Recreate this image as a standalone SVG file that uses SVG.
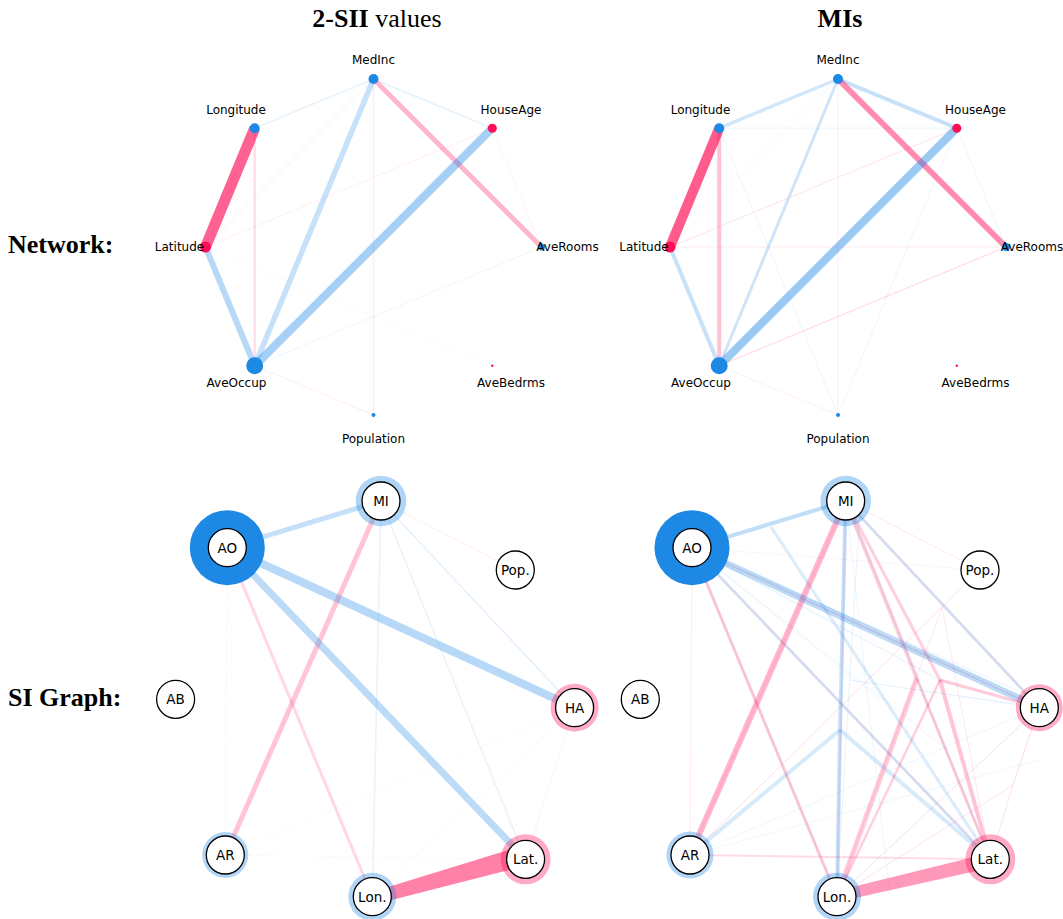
<svg xmlns="http://www.w3.org/2000/svg" width="1063" height="919" viewBox="0 0 1063 919">
<style>
.b{stroke:#1E88E5;fill:none}
.r{stroke:#FF0D57;fill:none}
.rp{fill:#FF0D57;stroke:none}
.lbl{font-family:"DejaVu Sans",sans-serif;font-size:12px;text-anchor:middle;fill:#000}
.sl{font-family:"DejaVu Sans",sans-serif;font-size:13.5px;text-anchor:middle;fill:#000}
.nd{fill:#fff;stroke:#000;stroke-width:1.3}
.ttl{font-family:"Liberation Serif",serif;font-size:26px;fill:#000}
.bf{fill:#1E88E5}
.rf{fill:#FF0D57}
.ringb{fill:#1E88E5;fill-opacity:0.35}
.ringr{fill:#FF0D57;fill-opacity:0.35}
</style>
<rect width="1063" height="919" fill="#fff"/>
<g id="titles">
<text class="ttl" x="377" y="27" text-anchor="middle"><tspan font-weight="bold">2-SII</tspan> values</text>
<text class="ttl" x="840" y="27" text-anchor="middle" font-weight="bold">MIs</text>
<text class="ttl" x="8" y="253" font-weight="bold">Network:</text>
<text class="ttl" x="8" y="706" font-weight="bold">SI Graph:</text>
</g>

<!-- ============ TOP LEFT NETWORK ============ -->
<g id="connectors-network-sii">
<line class="r" x1="373.5" y1="79" x2="373.5" y2="415" stroke-width="1.5" stroke-opacity="0.08"/>
<line class="b" x1="373.5" y1="79" x2="254.7" y2="128.2" stroke-width="1.5" stroke-opacity="0.1"/>
<line class="b" x1="373.5" y1="79" x2="492.3" y2="128.2" stroke-width="1.5" stroke-opacity="0.12"/>
<line class="b" x1="373.5" y1="79" x2="205.5" y2="247" stroke-width="1" stroke-opacity="0.08"/>
<line class="r" x1="205.5" y1="247" x2="492.3" y2="128.2" stroke-width="1" stroke-opacity="0.07"/>
<line class="r" x1="492.3" y1="128.2" x2="541.5" y2="247" stroke-width="1" stroke-opacity="0.05"/>
<line class="b" x1="254.7" y1="365.8" x2="541.5" y2="247" stroke-width="1" stroke-opacity="0.08"/>
<line class="r" x1="254.7" y1="365.8" x2="373.5" y2="415" stroke-width="1" stroke-opacity="0.08"/>
<line class="b" x1="205.5" y1="247" x2="492.3" y2="365.8" stroke-width="1" stroke-opacity="0.03"/>
<line class="b" x1="254.7" y1="128.2" x2="492.3" y2="365.8" stroke-width="1" stroke-opacity="0.03"/>
<line class="b" x1="254.7" y1="128.2" x2="205.5" y2="247" stroke-width="1" stroke-opacity="0.05"/>
<line class="r" x1="254.7" y1="128.2" x2="254.7" y2="365.8" stroke-width="2.2" stroke-opacity="0.15"/>
<line class="b" x1="205.5" y1="247" x2="254.7" y2="365.8" stroke-width="6" stroke-opacity="0.32"/>
<line class="b" x1="373.5" y1="79" x2="254.7" y2="365.8" stroke-width="5.5" stroke-opacity="0.25"/>
<line class="r" x1="373.5" y1="79" x2="541.5" y2="247" stroke-width="5" stroke-opacity="0.3"/>
<line class="b" x1="492.3" y1="128.2" x2="254.7" y2="365.8" stroke-width="8" stroke-opacity="0.4"/>
<line class="r" x1="254.7" y1="128.2" x2="205.5" y2="247" stroke-width="11" stroke-opacity="0.65"/>
</g>
<g id="n-tl-medinc"><circle class="bf" cx="373.5" cy="79" r="5"/><text class="lbl" x="373.5" y="64.4">MedInc</text></g>
<g id="n-tl-longitude"><circle class="bf" cx="254.7" cy="128.2" r="5"/><text class="lbl" x="236" y="114.4">Longitude</text></g>
<g id="n-tl-houseage"><circle class="rf" cx="492.3" cy="128.2" r="4.5"/><text class="lbl" x="511" y="114.4">HouseAge</text></g>
<g id="n-tl-latitude"><circle class="rf" cx="205.5" cy="247" r="5.5"/><text class="lbl" x="179.5" y="250.6">Latitude</text></g>
<g id="n-tl-averooms"><circle class="bf" cx="541.5" cy="247" r="3.5"/><text class="lbl" x="567.5" y="250.6">AveRooms</text></g>
<g id="n-tl-aveoccup"><circle class="bf" cx="254.7" cy="365.8" r="8.5"/><text class="lbl" x="236.5" y="386.7">AveOccup</text></g>
<g id="n-tl-avebedrms"><circle class="rf" cx="492.3" cy="365.8" r="1.2"/><text class="lbl" x="511" y="386.7">AveBedrms</text></g>
<g id="n-tl-population"><circle class="bf" cx="373.5" cy="415" r="2"/><text class="lbl" x="373.5" y="443.3">Population</text></g>

<!-- ============ TOP RIGHT NETWORK ============ -->
<g id="connectors-network-mi">
<line class="b" x1="719.2" y1="128.2" x2="956.8" y2="128.2" stroke-width="1" stroke-opacity="0.08"/>
<line class="r" x1="670" y1="247" x2="956.8" y2="128.2" stroke-width="1" stroke-opacity="0.12"/>
<line class="r" x1="670" y1="247" x2="1006" y2="247" stroke-width="1" stroke-opacity="0.08"/>
<line class="r" x1="719.2" y1="365.8" x2="1006" y2="247" stroke-width="1.2" stroke-opacity="0.15"/>
<line class="r" x1="719.2" y1="365.8" x2="838" y2="415" stroke-width="1" stroke-opacity="0.07"/>
<line class="b" x1="719.2" y1="128.2" x2="838" y2="415" stroke-width="1" stroke-opacity="0.08"/>
<line class="b" x1="956.8" y1="128.2" x2="838" y2="415" stroke-width="1" stroke-opacity="0.08"/>
<line class="r" x1="838" y1="79" x2="838" y2="415" stroke-width="1" stroke-opacity="0.07"/>
<line class="b" x1="956.8" y1="128.2" x2="1006" y2="247" stroke-width="1" stroke-opacity="0.08"/>
<line class="b" x1="838" y1="79" x2="670" y2="247" stroke-width="1" stroke-opacity="0.08"/>
<line class="b" x1="838" y1="79" x2="719.2" y2="128.2" stroke-width="3.5" stroke-opacity="0.2"/>
<line class="b" x1="838" y1="79" x2="956.8" y2="128.2" stroke-width="4" stroke-opacity="0.25"/>
<line class="b" x1="838" y1="79" x2="719.2" y2="365.8" stroke-width="3" stroke-opacity="0.22"/>
<line class="b" x1="670" y1="247" x2="719.2" y2="365.8" stroke-width="4" stroke-opacity="0.25"/>
<line class="r" x1="719.2" y1="128.2" x2="719.2" y2="365.8" stroke-width="4" stroke-opacity="0.25"/>
<line class="r" x1="838" y1="79" x2="1006" y2="247" stroke-width="6" stroke-opacity="0.48"/>
<line class="b" x1="956.8" y1="128.2" x2="719.2" y2="365.8" stroke-width="8" stroke-opacity="0.45"/>
<line class="r" x1="719.2" y1="128.2" x2="670" y2="247" stroke-width="10" stroke-opacity="0.68"/>
</g>
<g id="n-tr-medinc"><circle class="bf" cx="838" cy="79" r="5"/><text class="lbl" x="838" y="64.4">MedInc</text></g>
<g id="n-tr-longitude"><circle class="bf" cx="719.2" cy="128.2" r="5"/><text class="lbl" x="700.5" y="114.4">Longitude</text></g>
<g id="n-tr-houseage"><circle class="rf" cx="956.8" cy="128.2" r="4.5"/><text class="lbl" x="975.5" y="114.4">HouseAge</text></g>
<g id="n-tr-latitude"><circle class="rf" cx="670" cy="247" r="5.5"/><text class="lbl" x="644" y="250.6">Latitude</text></g>
<g id="n-tr-averooms"><circle class="bf" cx="1006" cy="247" r="4"/><text class="lbl" x="1032" y="250.6">AveRooms</text></g>
<g id="n-tr-aveoccup"><circle class="bf" cx="719.2" cy="365.8" r="8.5"/><text class="lbl" x="701" y="386.7">AveOccup</text></g>
<g id="n-tr-avebedrms"><circle class="rf" cx="956.8" cy="365.8" r="1.2"/><text class="lbl" x="975.5" y="386.7">AveBedrms</text></g>
<g id="n-tr-population"><circle class="bf" cx="838" cy="415" r="2"/><text class="lbl" x="838" y="443.3">Population</text></g>

<!-- ============ BOTTOM LEFT SI GRAPH ============ -->
<g id="connectors-si-sii">
<line class="b" x1="227.3" y1="547.7" x2="225.3" y2="855" stroke-width="1" stroke-opacity="0.04"/>
<line class="b" x1="225.3" y1="855" x2="525.6" y2="859.3" stroke-width="1" stroke-opacity="0.03"/>
<line class="b" x1="225.3" y1="855" x2="574.6" y2="707.7" stroke-width="1" stroke-opacity="0.03"/>
<line class="r" x1="381" y1="501" x2="515.3" y2="570" stroke-width="1" stroke-opacity="0.08"/>
<line class="r" x1="574.6" y1="707.7" x2="525.6" y2="859.3" stroke-width="1" stroke-opacity="0.06"/>
<line class="b" x1="372.3" y1="896.7" x2="574.6" y2="707.7" stroke-width="1" stroke-opacity="0.04"/>
<line class="b" x1="381" y1="501" x2="372.3" y2="896.7" stroke-width="1.5" stroke-opacity="0.1"/>
<line class="b" x1="381" y1="501" x2="525.6" y2="859.3" stroke-width="1.5" stroke-opacity="0.1"/>
<line class="b" x1="381" y1="501" x2="574.6" y2="707.7" stroke-width="1.5" stroke-opacity="0.13"/>
<line class="r" x1="227.3" y1="547.7" x2="372.3" y2="896.7" stroke-width="3" stroke-opacity="0.16"/>
<line class="r" x1="381" y1="501" x2="225.3" y2="855" stroke-width="5" stroke-opacity="0.24"/>
<line class="b" x1="227.3" y1="547.7" x2="381" y2="501" stroke-width="5" stroke-opacity="0.26"/>
<line class="b" x1="227.3" y1="547.7" x2="525.6" y2="859.3" stroke-width="7" stroke-opacity="0.3"/>
<line class="b" x1="227.3" y1="547.7" x2="574.6" y2="707.7" stroke-width="8" stroke-opacity="0.32"/>
<polygon class="rp" points="372,892 525,845 525,866 372,905" fill-opacity="0.52"/>
</g>
<g id="n-bl-ao"><circle class="bf" cx="227.3" cy="547.7" r="37.5"/><circle class="nd" cx="227.3" cy="547.7" r="19"/><text class="sl" x="227.3" y="552.5">AO</text></g>
<g id="n-bl-mi"><circle class="ringb" cx="381" cy="501" r="25.3"/><circle class="nd" cx="381" cy="501" r="19"/><text class="sl" x="381" y="505.8">MI</text></g>
<g id="n-bl-pop"><circle class="nd" cx="515.3" cy="570" r="19"/><text class="sl" x="515.3" y="574.8">Pop.</text></g>
<g id="n-bl-ab"><circle class="nd" cx="175.6" cy="699.3" r="19"/><text class="sl" x="175.6" y="704.1">AB</text></g>
<g id="n-bl-ha"><circle class="ringr" cx="574.6" cy="707.7" r="24" fill-opacity="0.25"/><circle class="nd" cx="574.6" cy="707.7" r="19"/><text class="sl" x="574.6" y="712.5">HA</text></g>
<g id="n-bl-ar"><circle class="ringb" cx="225.3" cy="855" r="23" fill-opacity="0.28"/><circle class="nd" cx="225.3" cy="855" r="19"/><text class="sl" x="225.3" y="859.8">AR</text></g>
<g id="n-bl-lon"><circle class="ringb" cx="372.3" cy="896.7" r="24" fill-opacity="0.3"/><circle class="nd" cx="372.3" cy="896.7" r="19"/><text class="sl" x="372.3" y="901.5">Lon.</text></g>
<g id="n-bl-lat"><circle class="ringr" cx="525.6" cy="859.3" r="25" fill-opacity="0.4"/><circle class="nd" cx="525.6" cy="859.3" r="19"/><text class="sl" x="525.6" y="864.1">Lat.</text></g>

<!-- ============ BOTTOM RIGHT SI GRAPH ============ -->
<g id="connectors-si-mi">
<line class="r" x1="692" y1="547.7" x2="690" y2="855" stroke-width="1" stroke-opacity="0.08"/>
<line class="r" x1="845.7" y1="501" x2="980" y2="570" stroke-width="1" stroke-opacity="0.1"/>
<line class="r" x1="692" y1="547.7" x2="980" y2="570" stroke-width="1" stroke-opacity="0.05"/>
<line class="b" x1="690" y1="855" x2="1039.3" y2="707.7" stroke-width="1" stroke-opacity="0.08"/>
<line class="b" x1="837" y1="896.7" x2="1039.3" y2="707.7" stroke-width="1" stroke-opacity="0.08"/>
<line class="b" x1="692" y1="547.7" x2="837" y2="896.7" stroke-width="1.5" stroke-opacity="0.08"/>
<line class="b" x1="692" y1="547.7" x2="940" y2="680" stroke-width="1.2" stroke-opacity="0.1"/>
<line class="b" x1="692" y1="547.7" x2="1039.3" y2="700" stroke-width="1" stroke-opacity="0.1"/>
<line class="b" x1="692" y1="547.7" x2="960" y2="760" stroke-width="1" stroke-opacity="0.08"/>
<line class="b" x1="692" y1="547.7" x2="880" y2="700" stroke-width="1" stroke-opacity="0.08"/>
<line class="b" x1="845.7" y1="501" x2="990.3" y2="859.3" stroke-width="1.5" stroke-opacity="0.12"/>
<line class="b" x1="845.7" y1="501" x2="890" y2="896" stroke-width="1" stroke-opacity="0.08"/>
<line class="b" x1="860" y1="505" x2="837" y2="896.7" stroke-width="1" stroke-opacity="0.1"/>
<line class="b" x1="690" y1="855" x2="1039.3" y2="760" stroke-width="1" stroke-opacity="0.07"/>
<line class="b" x1="850" y1="680" x2="1039.3" y2="707.7" stroke-width="1.2" stroke-opacity="0.12"/>
<line class="r" x1="845.7" y1="501" x2="837" y2="896.7" stroke-width="1.5" stroke-opacity="0.12"/>
<line class="r" x1="845.7" y1="501" x2="690" y2="855" stroke-width="1.2" stroke-opacity="0.1"/>
<line class="r" x1="1039.3" y1="707.7" x2="1013" y2="785" stroke-width="1" stroke-opacity="0.15"/>
<line class="r" x1="1013" y1="785" x2="990.3" y2="859.3" stroke-width="1" stroke-opacity="0.12"/>
<line class="r" x1="1013" y1="785" x2="837" y2="896.7" stroke-width="1" stroke-opacity="0.12"/>
<line class="r" x1="942" y1="607" x2="690" y2="855" stroke-width="1" stroke-opacity="0.14"/>
<line class="r" x1="942" y1="607" x2="980" y2="570" stroke-width="1" stroke-opacity="0.1"/>
<line class="r" x1="942" y1="607" x2="990.3" y2="859.3" stroke-width="1" stroke-opacity="0.1"/>
<line class="r" x1="942" y1="607" x2="837" y2="896.7" stroke-width="1" stroke-opacity="0.1"/>
<line class="r" x1="692" y1="547.7" x2="1039.3" y2="707.7" stroke-width="1.5" stroke-opacity="0.16"/>
<line class="r" x1="690" y1="855" x2="990.3" y2="859.3" stroke-width="2" stroke-opacity="0.15"/>
<line class="r" x1="837" y1="896.7" x2="1039.3" y2="707.7" stroke-width="1" stroke-opacity="0.08"/>
<line class="b" x1="692" y1="547.7" x2="845.7" y2="501" stroke-width="4" stroke-opacity="0.28"/>
<line class="b" x1="770.7" y1="526.7" x2="990.3" y2="859.3" stroke-width="3" stroke-opacity="0.16"/>
<polyline class="b" points="845.7,501 840,730 837,896.7" stroke-width="4" stroke-opacity="0.26"/>
<line class="b" x1="840" y1="730" x2="690" y2="855" stroke-width="4" stroke-opacity="0.18"/>
<line class="b" x1="840" y1="730" x2="990.3" y2="859.3" stroke-width="4" stroke-opacity="0.18"/>
<line class="b" x1="845.7" y1="501" x2="1039.3" y2="707.7" stroke-width="3" stroke-opacity="0.18"/>
<line class="r" x1="845.7" y1="501" x2="1039.3" y2="707.7" stroke-width="2" stroke-opacity="0.08"/>
<line class="b" x1="692" y1="547.7" x2="990.3" y2="859.3" stroke-width="3" stroke-opacity="0.18"/>
<line class="r" x1="692" y1="547.7" x2="990.3" y2="859.3" stroke-width="2" stroke-opacity="0.08"/>
<line class="r" x1="692" y1="547.7" x2="837" y2="896.7" stroke-width="3" stroke-opacity="0.22"/>
<line class="r" x1="916.7" y1="678.3" x2="845.7" y2="501" stroke-width="4" stroke-opacity="0.2"/>
<line class="r" x1="916.7" y1="678.3" x2="837" y2="896.7" stroke-width="5" stroke-opacity="0.22"/>
<line class="r" x1="916.7" y1="678.3" x2="990.3" y2="859.3" stroke-width="3" stroke-opacity="0.2"/>
<line class="r" x1="940" y1="680" x2="845.7" y2="501" stroke-width="3" stroke-opacity="0.2"/>
<line class="r" x1="940" y1="680" x2="1039.3" y2="707.7" stroke-width="3" stroke-opacity="0.22"/>
<line class="r" x1="940" y1="680" x2="837" y2="896.7" stroke-width="2.5" stroke-opacity="0.2"/>
<line class="r" x1="940" y1="680" x2="990.3" y2="859.3" stroke-width="4" stroke-opacity="0.24"/>
<line class="r" x1="845.7" y1="501" x2="690" y2="855" stroke-width="6" stroke-opacity="0.3"/>
<line class="b" x1="692" y1="547.7" x2="1039.3" y2="707.7" stroke-width="7" stroke-opacity="0.3"/>
<polygon class="rp" points="837,890.7 990,853 990,868 837,902" fill-opacity="0.42"/>
</g>
<g id="n-br-ao"><circle class="bf" cx="692" cy="547.7" r="37.5"/><circle class="nd" cx="692" cy="547.7" r="19"/><text class="sl" x="692" y="552.5">AO</text></g>
<g id="n-br-mi"><circle class="ringb" cx="845.7" cy="501" r="25.3"/><circle class="nd" cx="845.7" cy="501" r="19"/><text class="sl" x="845.7" y="505.8">MI</text></g>
<g id="n-br-pop"><circle class="nd" cx="980" cy="570" r="19"/><text class="sl" x="980" y="574.8">Pop.</text></g>
<g id="n-br-ab"><circle class="nd" cx="640.3" cy="699.3" r="19"/><text class="sl" x="640.3" y="704.1">AB</text></g>
<g id="n-br-ha"><circle class="ringr" cx="1039.3" cy="707.7" r="23.5" fill-opacity="0.3"/><circle class="nd" cx="1039.3" cy="707.7" r="19"/><text class="sl" x="1039.3" y="712.5">HA</text></g>
<g id="n-br-ar"><circle class="ringb" cx="690" cy="855" r="23.5" fill-opacity="0.3"/><circle class="nd" cx="690" cy="855" r="19"/><text class="sl" x="690" y="859.8">AR</text></g>
<g id="n-br-lon"><circle class="ringb" cx="837" cy="896.7" r="24" fill-opacity="0.3"/><circle class="nd" cx="837" cy="896.7" r="19"/><text class="sl" x="837" y="901.5">Lon.</text></g>
<g id="n-br-lat"><circle class="ringr" cx="990.3" cy="859.3" r="25" fill-opacity="0.4"/><circle class="nd" cx="990.3" cy="859.3" r="19"/><text class="sl" x="990.3" y="864.1">Lat.</text></g>
</svg>
